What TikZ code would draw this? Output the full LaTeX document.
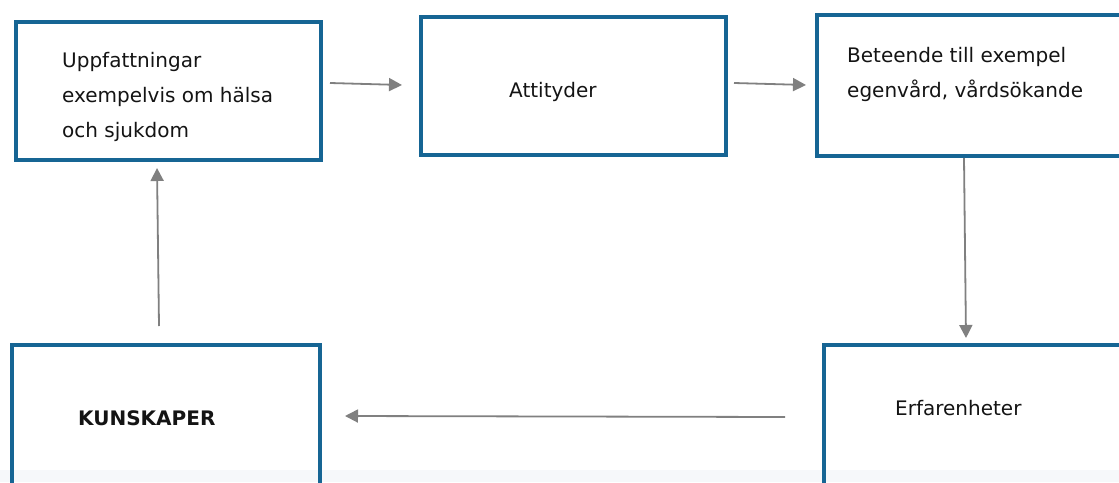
\documentclass[tikz,border=0pt]{standalone}
\usepackage{fontspec}
\setmainfont{DejaVu Sans}
\usetikzlibrary{arrows.meta}
\definecolor{boxblue}{RGB}{22,101,148}
\definecolor{arrgray}{RGB}{128,128,128}
\definecolor{txtcol}{RGB}{20,20,20}
\definecolor{faint}{RGB}{246,248,250}
\tikzset{
  box/.style={draw=boxblue, line width=4pt, rectangle, inner sep=0pt},
  arr/.style={draw=arrgray, line width=1.8pt, -{Triangle[length=13pt,width=13pt]}},
  txt/.style={inner sep=0pt, anchor=base west, text=txtcol, font=\fontsize{20}{35}\selectfont},
  btxt/.style={txt, font=\fontsize{20}{35}\selectfont\bfseries}
}
\begin{document}
\begin{tikzpicture}[x=1pt,y=-1pt]
\useasboundingbox (0,0) rectangle (1119,482);
\clip (0,0) rectangle (1119,482);
\fill[white] (0,0) rectangle (1119,482);
\fill[faint] (0,470) rectangle (1119,482);
% boxes
\node[box, minimum width=305pt, minimum height=138pt] (b1) at (168.5,91) {};
\node[box, minimum width=305pt, minimum height=138pt] (b2) at (573.5,86) {};
\node[box, minimum width=313pt, minimum height=141pt] (b3) at (973.5,85.5) {};
\node[box, minimum width=308pt, minimum height=155pt] (b4) at (166,422.5) {};
\node[box, minimum width=306pt, minimum height=155pt] (b5) at (977,422.5) {};
% texts
\node[txt] (t1a) at (62,67) {Uppfattningar};
\node[txt] (t1b) at (62,102) {exempelvis om hälsa};
\node[txt] (t1c) at (62,137) {och sjukdom};
\node[txt] (t2) at (509,97) {Attityder};
\node[txt] (t3a) at (847,62) {Beteende till exempel};
\node[txt] (t3b) at (847,97) {egenvård, vårdsökande};
\node[btxt] (t4) at (78,425) {KUNSKAPER};
\node[txt] (t5) at (895,415) {Erfarenheter};
% arrows
\draw[arr] ([xshift=7pt,yshift=8pt]b1.east) -- ([xshift=-17pt,yshift=1pt]b2.west);
\draw[arr] ([xshift=6pt,yshift=3pt]b2.east) -- ([xshift=-9pt,yshift=0.5pt]b3.west);
\draw[arr] ([xshift=-9.5pt]b3.south) -- ([xshift=-11pt,yshift=5pt]b5.north);
\draw[arr] ([xshift=-37pt,yshift=5.5pt]b5.west) -- ([xshift=23pt,yshift=6.5pt]b4.east);
\draw[arr] ([xshift=-7pt,yshift=17pt]b4.north) -- ([xshift=-11.5pt,yshift=-6pt]b1.south);
\end{tikzpicture}
\end{document}
